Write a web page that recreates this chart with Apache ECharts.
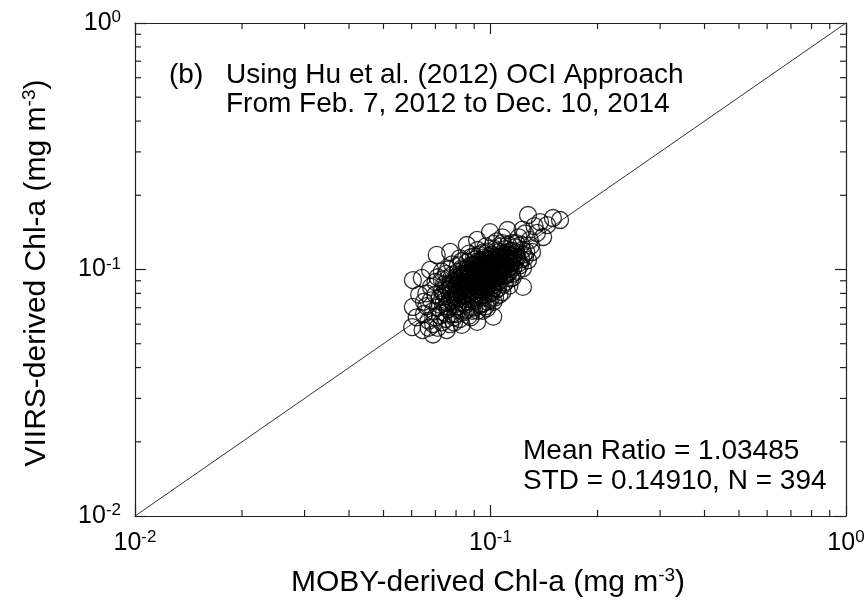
<!DOCTYPE html>
<html>
<head>
<meta charset="utf-8">
<script src="https://cdn.jsdelivr.net/npm/echarts@6.0.0/dist/echarts.min.js"></script>
<style>
html,body{margin:0;padding:0;background:#fff;}
#chart{width:866px;height:606px;}
</style>
</head>
<body>
<div id="chart"></div>
<script>
// ---- data ----
const axisMin = 0.01;
const axisMax = 1;
const minorTickValues = [0.02,0.03,0.04,0.05,0.06,0.07,0.08,0.09,0.2,0.3,0.4,0.5,0.6,0.7,0.8,0.9];
const oneToOneLine = [[0.01,0.01],[1,1]];
const xTitleText = ['MOBY-derived Chl-a (mg m', '-3', ')'];
const yTitleText = ['VIIRS-derived Chl-a (mg m', '-3', ')'];
const panelLabel = '(b)';
const panelLines = ['Using Hu et al. (2012) OCI Approach', 'From Feb. 7, 2012 to Dec. 10, 2014'];
const statsLines = ['Mean Ratio = 1.03485', 'STD = 0.14910, N = 394'];
// [MOBY chl-a, VIIRS chl-a] (mg m^-3)
const matchups = [
[0.065,0.066],[0.066,0.071],[0.067,0.062],[0.068,0.075],[0.069,0.068],[0.066,0.080],[0.068,0.085],[0.069,0.060],[0.067,0.058],[0.065,0.074],
[0.070,0.064],[0.071,0.070],[0.072,0.077],[0.073,0.082],[0.070,0.089],[0.074,0.067],[0.071,0.093],[0.073,0.061],[0.072,0.072],[0.074,0.087],[0.070,0.079],[0.073,0.098],[0.071,0.058],[0.074,0.074],[0.072,0.065],[0.073,0.091],
[0.075,0.063],[0.076,0.069],[0.077,0.075],[0.078,0.081],[0.075,0.086],[0.079,0.072],[0.076,0.092],[0.078,0.066],[0.077,0.084],[0.079,0.089],[0.075,0.078],[0.076,0.100],[0.078,0.095],[0.077,0.060],[0.079,0.078],[0.076,0.073],[0.078,0.105],[0.075,0.096],[0.077,0.088],[0.079,0.064],
[0.080,0.070],[0.081,0.076],[0.082,0.082],[0.083,0.087],[0.080,0.093],[0.084,0.073],[0.081,0.098],[0.083,0.068],[0.082,0.090],[0.084,0.095],[0.080,0.081],[0.081,0.104],[0.083,0.101],[0.082,0.063],[0.084,0.079],[0.080,0.075],[0.083,0.108],[0.081,0.086],[0.084,0.085],[0.082,0.111],[0.080,0.066],[0.083,0.092],[0.084,0.067],[0.081,0.071],
[0.085,0.072],[0.086,0.078],[0.087,0.084],[0.088,0.090],[0.085,0.096],[0.089,0.075],[0.086,0.101],[0.088,0.070],[0.087,0.093],[0.089,0.098],[0.085,0.083],[0.086,0.107],[0.088,0.104],[0.087,0.065],[0.089,0.082],[0.085,0.088],[0.088,0.112],[0.086,0.089],[0.089,0.088],[0.087,0.116],[0.085,0.068],[0.088,0.095],[0.089,0.068],[0.086,0.074],[0.087,0.100],[0.088,0.080],
[0.090,0.074],[0.091,0.080],[0.092,0.087],[0.093,0.093],[0.090,0.099],[0.094,0.078],[0.091,0.104],[0.093,0.072],[0.092,0.096],[0.094,0.101],[0.090,0.086],[0.091,0.110],[0.093,0.107],[0.092,0.068],[0.094,0.085],[0.090,0.092],[0.093,0.115],[0.091,0.093],[0.094,0.091],[0.092,0.120],[0.090,0.070],[0.093,0.098],[0.094,0.072],[0.091,0.077],[0.092,0.102],[0.093,0.083],[0.090,0.113],[0.094,0.109],
[0.095,0.077],[0.096,0.083],[0.097,0.089],[0.098,0.095],[0.095,0.101],[0.099,0.080],[0.096,0.106],[0.098,0.074],[0.097,0.098],[0.099,0.104],[0.095,0.088],[0.096,0.112],[0.098,0.110],[0.097,0.071],[0.099,0.087],[0.095,0.094],[0.098,0.118],[0.096,0.096],[0.099,0.093],[0.097,0.124],[0.095,0.073],[0.098,0.101],[0.099,0.076],[0.096,0.079],[0.097,0.105],[0.098,0.085],[0.095,0.117],[0.099,0.113],
[0.100,0.080],[0.101,0.086],[0.102,0.092],[0.103,0.097],[0.100,0.103],[0.104,0.083],[0.101,0.109],[0.103,0.077],[0.102,0.100],[0.104,0.106],[0.100,0.090],[0.101,0.115],[0.103,0.113],[0.102,0.074],[0.104,0.090],[0.100,0.096],[0.103,0.121],[0.101,0.098],[0.104,0.096],[0.102,0.127],[0.100,0.076],[0.103,0.104],[0.104,0.119],[0.101,0.082],
[0.105,0.084],[0.106,0.090],[0.107,0.096],[0.108,0.101],[0.105,0.107],[0.109,0.087],[0.106,0.112],[0.108,0.081],[0.107,0.104],[0.109,0.110],[0.105,0.094],[0.106,0.118],[0.108,0.116],[0.107,0.124],[0.109,0.094],[0.105,0.100],[0.108,0.128],[0.106,0.099],
[0.110,0.089],[0.111,0.095],[0.112,0.101],[0.113,0.106],[0.110,0.112],[0.114,0.092],[0.111,0.117],[0.113,0.086],[0.112,0.109],[0.114,0.114],[0.110,0.121],[0.112,0.126],[0.113,0.098],[0.111,0.104],
[0.115,0.096],[0.116,0.102],[0.117,0.108],[0.118,0.113],[0.116,0.119],[0.119,0.099],[0.117,0.123],[0.120,0.106],[0.118,0.117],[0.115,0.128],
[0.121,0.104],[0.122,0.110],[0.124,0.115],[0.123,0.120],[0.125,0.112],[0.122,0.126],[0.126,0.118],
[0.1275,0.1664],[0.1498,0.1618],[0.1569,0.1588],[0.1378,0.1558],[0.1443,0.1515],[0.1351,0.1407],[0.1406,0.1355],[0.1290,0.1318],
[0.1309,0.1178],[0.1275,0.1091],[0.1234,0.1012],[0.1234,0.0850],[0.1155,0.0928],[0.1191,0.1121],[0.1117,0.1446],[0.0997,0.1418],
[0.0917,0.1318],[0.0858,0.1257],[0.0770,0.1178],[0.0706,0.1146],[0.0676,0.0996],[0.0641,0.0924],[0.0605,0.0906],[0.0605,0.0705],
[0.0602,0.0584],[0.0644,0.0568],[0.0689,0.0545],[0.0753,0.0568],[0.0830,0.0596],[0.0917,0.0613],[0.1018,0.0644],[0.0978,0.0697],
[0.120,0.135],[0.125,0.140],[0.118,0.128],[0.130,0.125],[0.133,0.150],[0.123,0.145],[0.108,0.135],[0.104,0.130],
[0.088,0.064],[0.079,0.061],[0.095,0.068],[0.106,0.079],[0.062,0.064],[0.063,0.079],
[0.074,0.080],[0.076,0.083],[0.077,0.079],[0.078,0.087],[0.079,0.083],[0.080,0.086],[0.081,0.080],[0.082,0.094],[0.082,0.085],[0.083,0.078],
[0.083,0.096],[0.084,0.089],[0.084,0.100],[0.085,0.092],[0.085,0.079],[0.086,0.084],[0.086,0.095],[0.087,0.088],[0.087,0.080],[0.088,0.086],
[0.088,0.099],[0.089,0.092],[0.089,0.103],[0.090,0.082],[0.090,0.095],[0.090,0.105],[0.091,0.089],[0.091,0.098],[0.092,0.083],[0.092,0.091],
[0.092,0.108],[0.093,0.087],[0.093,0.102],[0.094,0.094],[0.094,0.097],[0.095,0.084],[0.095,0.091],[0.095,0.108],[0.096,0.087],[0.096,0.100],
[0.097,0.093],[0.097,0.110],[0.097,0.083],[0.098,0.090],[0.098,0.105],[0.099,0.097],[0.099,0.108],[0.100,0.093],[0.100,0.099],[0.100,0.110],
[0.101,0.091],[0.101,0.103],[0.102,0.096],[0.102,0.106],[0.102,0.084],[0.103,0.092],[0.103,0.109],[0.104,0.101],[0.104,0.112],[0.105,0.089],
[0.105,0.104],[0.106,0.094],[0.106,0.108],[0.107,0.100],[0.107,0.113],[0.108,0.094],[0.108,0.106],[0.109,0.099],[0.109,0.115],[0.110,0.104],
[0.110,0.095],[0.111,0.109],[0.112,0.096],[0.112,0.114],[0.113,0.111],[0.114,0.103],[0.114,0.119],[0.115,0.108],[0.116,0.113],[0.117,0.115],
[0.075,0.071],[0.078,0.074],[0.080,0.078],[0.081,0.091],[0.083,0.082],[0.085,0.076],[0.086,0.091],[0.087,0.097],[0.089,0.079],[0.091,0.085],
[0.093,0.078],[0.094,0.105],[0.096,0.092],[0.097,0.102],[0.099,0.100],[0.101,0.094],[0.103,0.100],[0.105,0.111],[0.107,0.109]
];

// ---- chart ----
const FONT = '"Liberation Sans", Arial, Helvetica, sans-serif';
const INK = '#000';
const FRAME = '#222';

function logLabel(v) {
  const e = Math.round(Math.log10(v));
  return '{b|10}{s|' + e + '}';
}
const tickRich = {
  b: { fontSize: 25, fontFamily: FONT, color: INK, lineHeight: 28 },
  s: { fontSize: 17, fontFamily: FONT, color: INK, lineHeight: 17, verticalAlign: 'top' }
};
const titleRich = {
  n: { fontSize: 30, fontFamily: FONT, color: INK, lineHeight: 34 },
  s: { fontSize: 19, fontFamily: FONT, color: INK, lineHeight: 19, verticalAlign: 'top' }
};

function makeAxis(pos, showLabel) {
  return {
    type: 'log', logBase: 10, min: axisMin, max: axisMax, position: pos,
    axisLine: { show: true, onZero: false, lineStyle: { color: FRAME, width: 1.2 } },
    axisTick: { show: true, inside: true, length: 11, lineStyle: { color: FRAME, width: 1.2 } },
    axisLabel: showLabel ? { show: true, formatter: logLabel, rich: tickRich, margin: pos === 'bottom' ? 13 : 14 } : { show: false },
    splitLine: { show: false },
    minorTick: { show: false },
    minorSplitLine: { show: false }
  };
}

const chart = echarts.init(document.getElementById('chart'), null, { renderer: 'canvas' });
const option = {
  animation: false,
  backgroundColor: '#fff',
  grid: { left: 135, top: 23, right: 20, bottom: 90, containLabel: false, outerBoundsMode: 'none' },
  xAxis: [makeAxis('bottom', true), makeAxis('top', false)],
  yAxis: [makeAxis('left', true), makeAxis('right', false)],
  series: [
    {
      type: 'line', xAxisIndex: 0, yAxisIndex: 0, data: oneToOneLine,
      symbol: 'none', silent: true, z: 1,
      lineStyle: { color: '#333', width: 1 }
    },
    {
      type: 'scatter', xAxisIndex: 0, yAxisIndex: 0, data: matchups,
      symbol: 'circle', symbolSize: 17, silent: true, z: 2,
      itemStyle: { color: 'rgba(0,0,0,0)', borderColor: INK, borderWidth: 1.3 }
    },
    {
      type: 'custom', xAxisIndex: 0, yAxisIndex: 0, silent: true, clip: false, z: 3,
      data: minorTickValues.map(v => [v, v]),
      renderItem: function (params, api) {
        const v = api.value(0);
        const b = api.coord([v, axisMin]);
        const t = api.coord([v, axisMax]);
        const l = api.coord([axisMin, v]);
        const r = api.coord([axisMax, v]);
        const st = { stroke: FRAME, lineWidth: 1.2 };
        const L = 6;
        return {
          type: 'group',
          children: [
            { type: 'line', shape: { x1: b[0], y1: b[1], x2: b[0], y2: b[1] - L }, style: st },
            { type: 'line', shape: { x1: t[0], y1: t[1], x2: t[0], y2: t[1] + L }, style: st },
            { type: 'line', shape: { x1: l[0], y1: l[1], x2: l[0] + L, y2: l[1] }, style: st },
            { type: 'line', shape: { x1: r[0], y1: r[1], x2: r[0] - L, y2: r[1] }, style: st }
          ]
        };
      }
    }
  ],
  graphic: [
    { type: 'text', x: 169, y: 75, silent: true,
      style: { text: panelLabel, font: '28px ' + FONT, fill: INK, align: 'left', verticalAlign: 'middle' } },
    { type: 'text', x: 226, y: 75, silent: true,
      style: { text: panelLines[0], font: '28px ' + FONT, fill: INK, align: 'left', verticalAlign: 'middle' } },
    { type: 'text', x: 226, y: 104, silent: true,
      style: { text: panelLines[1], font: '28px ' + FONT, fill: INK, align: 'left', verticalAlign: 'middle' } },
    { type: 'text', x: 523, y: 451, silent: true,
      style: { text: statsLines[0], font: '28px ' + FONT, fill: INK, align: 'left', verticalAlign: 'middle' } },
    { type: 'text', x: 523, y: 481, silent: true,
      style: { text: statsLines[1], font: '28px ' + FONT, fill: INK, align: 'left', verticalAlign: 'middle' } },
    { type: 'text', x: 488, y: 583, silent: true,
      style: { text: '{n|' + xTitleText[0] + '}{s|' + xTitleText[1] + '}{n|' + xTitleText[2] + '}',
               rich: titleRich, align: 'center', verticalAlign: 'middle' } },
    { type: 'text', x: 37, y: 273, rotation: Math.PI / 2, silent: true,
      style: { text: '{n|' + yTitleText[0] + '}{s|' + yTitleText[1] + '}{n|' + yTitleText[2] + '}',
               rich: titleRich, align: 'center', verticalAlign: 'middle' } }
  ]
};
chart.setOption(option);
</script>
</body>
</html>
